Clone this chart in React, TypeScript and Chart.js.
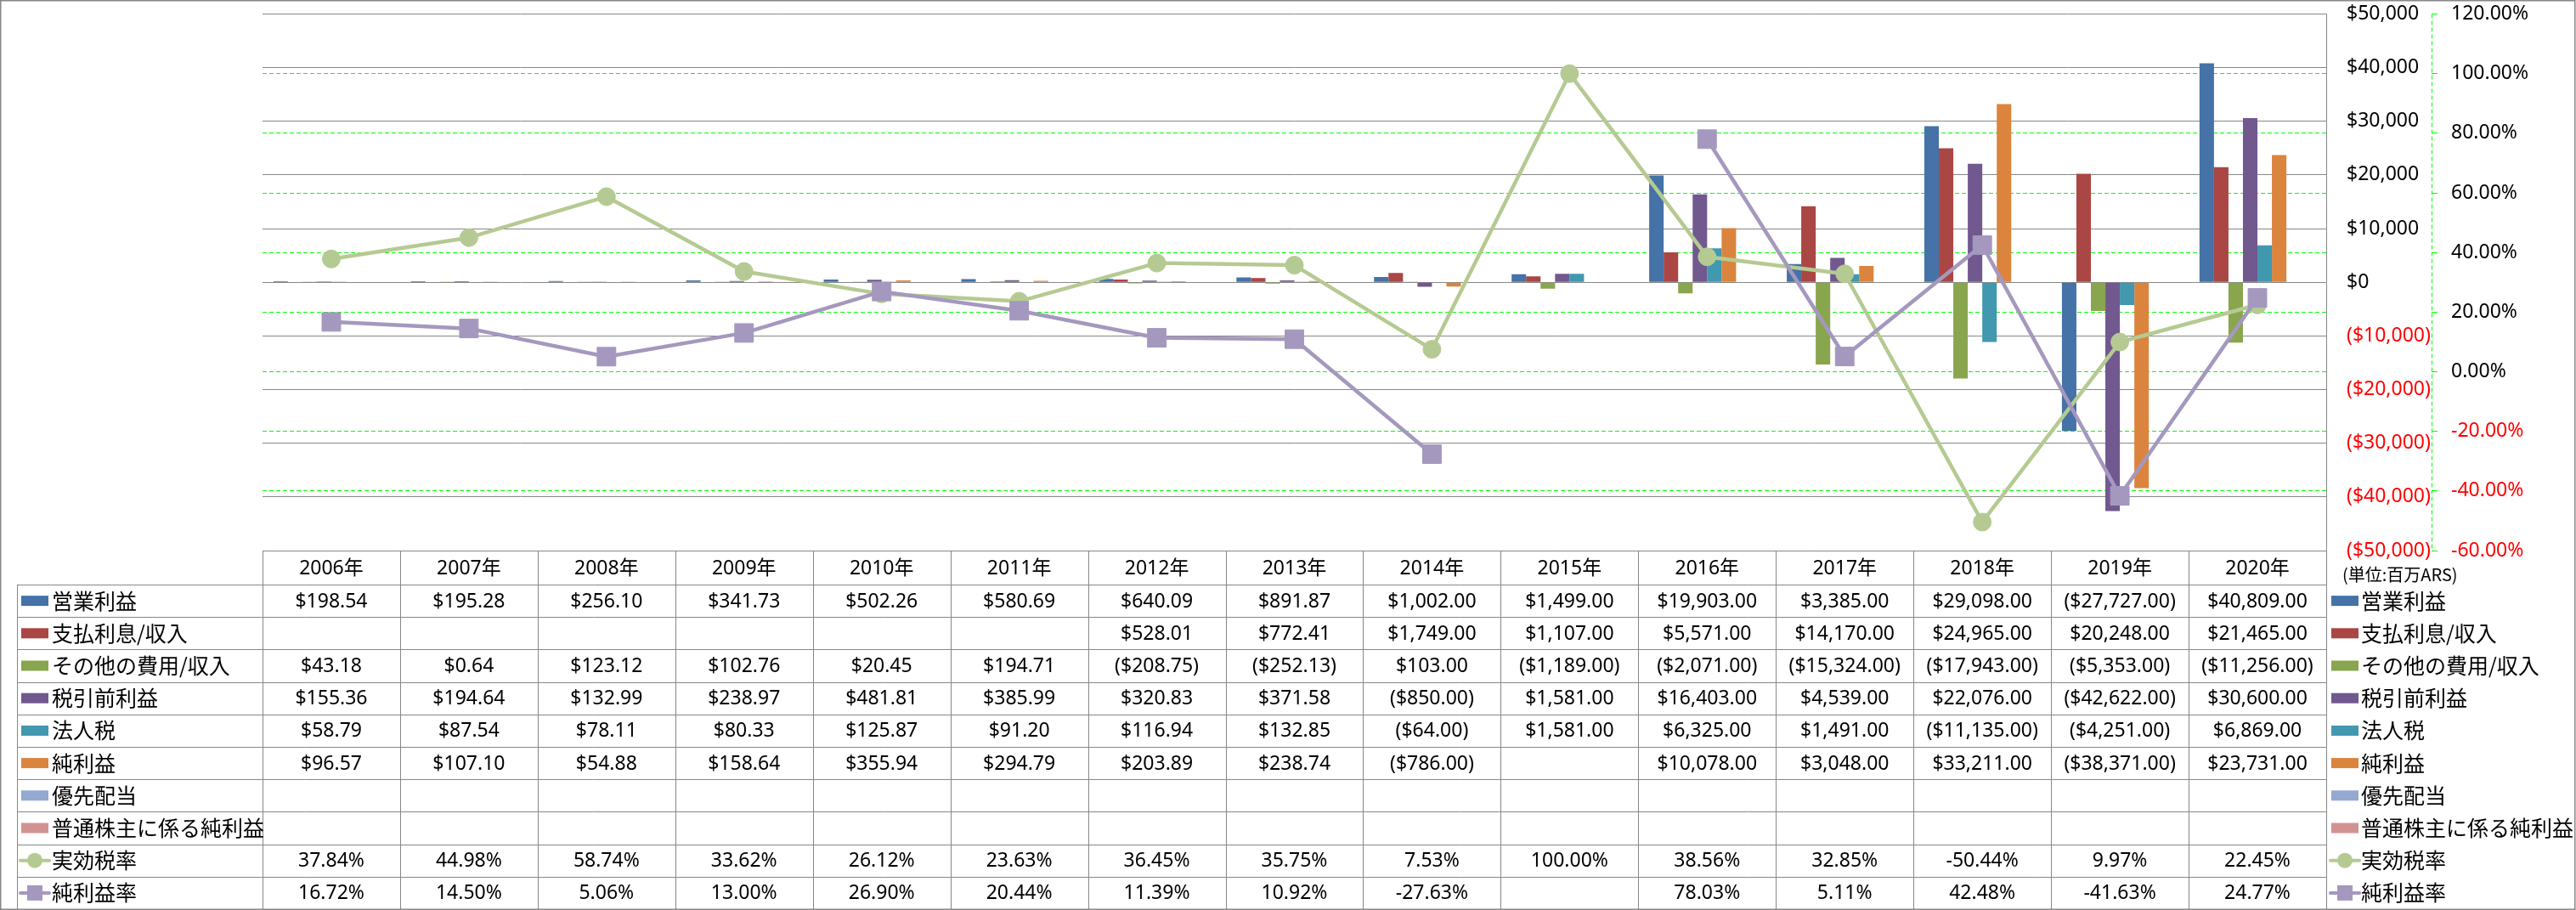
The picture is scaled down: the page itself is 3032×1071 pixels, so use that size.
import React, { useEffect, useRef } from 'react';
import { Chart, registerables } from 'chart.js';

Chart.register(...registerables);

// ---------- data ----------
const years = ['2006年', '2007年', '2008年', '2009年', '2010年', '2011年', '2012年', '2013年', '2014年', '2015年', '2016年', '2017年', '2018年', '2019年', '2020年'];

const operatingIncome = [198.54, 195.28, 256.10, 341.73, 502.26, 580.69, 640.09, 891.87, 1002.00, 1499.00, 19903.00, 3385.00, 29098.00, -27727.00, 40809.00];
const interestIncome = [null, null, null, null, null, null, 528.01, 772.41, 1749.00, 1107.00, 5571.00, 14170.00, 24965.00, 20248.00, 21465.00];
const otherIncome = [43.18, 0.64, 123.12, 102.76, 20.45, 194.71, -208.75, -252.13, 103.00, -1189.00, -2071.00, -15324.00, -17943.00, -5353.00, -11256.00];
const pretaxIncome = [155.36, 194.64, 132.99, 238.97, 481.81, 385.99, 320.83, 371.58, -850.00, 1581.00, 16403.00, 4539.00, 22076.00, -42622.00, 30600.00];
const incomeTax = [58.79, 87.54, 78.11, 80.33, 125.87, 91.20, 116.94, 132.85, -64.00, 1581.00, 6325.00, 1491.00, -11135.00, -4251.00, 6869.00];
const netIncome = [96.57, 107.10, 54.88, 158.64, 355.94, 294.79, 203.89, 238.74, -786.00, null, 10078.00, 3048.00, 33211.00, -38371.00, 23731.00];
const preferredDividends = [null, null, null, null, null, null, null, null, null, null, null, null, null, null, null];
const commonNetIncome = [null, null, null, null, null, null, null, null, null, null, null, null, null, null, null];
const effectiveTaxRate = [37.84, 44.98, 58.74, 33.62, 26.12, 23.63, 36.45, 35.75, 7.53, 100.00, 38.56, 32.85, -50.44, 9.97, 22.45];
const netMargin = [16.72, 14.50, 5.06, 13.00, 26.90, 20.44, 11.39, 10.92, -27.63, null, 78.03, 5.11, 42.48, -41.63, 24.77];

const barNames = ['営業利益', '支払利息/収入', 'その他の費用/収入', '税引前利益', '法人税', '純利益', '優先配当', '普通株主に係る純利益'];
const barColors = ['#4572A7', '#AA4643', '#89A54E', '#71588F', '#4198AF', '#DB843D', '#93A9CF', '#D19392'];
const barSeries = [operatingIncome, interestIncome, otherIncome, pretaxIncome, incomeTax, netIncome, preferredDividends, commonNetIncome];
const lineNames = ['実効税率', '純利益率'];
const lineColors = ['#B5CA92', '#A598BE'];
const lineSeries = [effectiveTaxRate, netMargin];
const unitLabel = '(単位:百万ARS)';

const LATIN = '"Noto Sans", "Noto Sans CJK JP", sans-serif';
const CJK = '"Noto Sans CJK JP", sans-serif';
const GRID = '#878787';
const NUM_SIZE = 23;

function fmtMoney(v: number | null): string {
  if (v === null || v === undefined) return '';
  const s = '$' + Math.abs(v).toLocaleString('en-US', { minimumFractionDigits: 2, maximumFractionDigits: 2 });
  return v < 0 ? '(' + s + ')' : s;
}
function fmtPct(v: number | null): string {
  if (v === null || v === undefined) return '';
  return v.toFixed(2) + '%';
}

function drawKey(ctx: CanvasRenderingContext2D, ds: any, cx: number, cy: number) {
  ctx.save();
  if (ds.type === 'line') {
    ctx.strokeStyle = ds.borderColor;
    ctx.lineWidth = 4;
    ctx.lineCap = 'round';
    ctx.beginPath();
    ctx.moveTo(cx - 17, cy);
    ctx.lineTo(cx + 17, cy);
    ctx.stroke();
    ctx.fillStyle = ds.pointBackgroundColor;
    if (ds.pointStyle === 'circle') {
      ctx.beginPath();
      ctx.arc(cx, cy, 9, 0, Math.PI * 2);
      ctx.fill();
    } else {
      ctx.fillRect(cx - 9, cy - 9, 18, 18);
    }
  } else {
    ctx.fillStyle = ds.backgroundColor;
    ctx.fillRect(cx - 16, cy - 6, 32, 12);
  }
  ctx.restore();
}

const tablePlugin = {
  id: 'dataTable',
  beforeDraw(chart: any) {
    const ctx = chart.ctx;
    ctx.save();
    ctx.fillStyle = '#ffffff';
    ctx.fillRect(0, 0, chart.width, chart.height);
    ctx.restore();
  },
  afterDraw(chart: any) {
    const ctx: CanvasRenderingContext2D = chart.ctx;
    const area = chart.chartArea;
    const xs = chart.scales.x;
    const y1 = chart.scales.y1;
    const n = years.length;
    const colW = (area.right - area.left) / n;
    const top = area.bottom;
    const headerH = 40;
    const rowH = 38.2;
    const labelLeft = 20;
    const datasets = chart.data.datasets;
    const rows = datasets.length;
    const bottom = top + headerH + rows * rowH;
    const px = (v: number) => Math.round(v) + 0.5;

    ctx.save();
    // secondary axis dashed line
    ctx.strokeStyle = '#00FF00';
    ctx.lineWidth = 1;
    ctx.setLineDash([5, 3]);
    ctx.beginPath();
    ctx.moveTo(px(y1.left), y1.top);
    ctx.lineTo(px(y1.left), y1.bottom);
    ctx.stroke();
    ctx.setLineDash([]);

    // table lines
    ctx.strokeStyle = GRID;
    ctx.lineWidth = 1;
    ctx.beginPath();
    for (let r = 0; r <= rows; r++) {
      const y = px(top + headerH + r * rowH);
      ctx.moveTo(labelLeft, y);
      ctx.lineTo(area.right, y);
    }
    ctx.moveTo(area.left, px(top));
    ctx.lineTo(area.right, px(top));
    for (let i = 0; i <= n; i++) {
      const x = px(area.left + i * colW);
      ctx.moveTo(x, top);
      ctx.lineTo(x, bottom);
    }
    ctx.moveTo(px(labelLeft), top + headerH);
    ctx.lineTo(px(labelLeft), bottom);
    ctx.stroke();

    // header labels
    ctx.fillStyle = '#000000';
    ctx.textAlign = 'center';
    ctx.textBaseline = 'middle';
    ctx.font = NUM_SIZE + 'px ' + LATIN;
    for (let i = 0; i < n; i++) {
      ctx.fillText(years[i], xs.getPixelForValue(i), top + headerH / 2 + 1);
    }

    // rows
    for (let r = 0; r < rows; r++) {
      const ds = datasets[r];
      const cy = top + headerH + r * rowH + rowH / 2;
      drawKey(ctx, ds, 41, cy);
      drawKey(ctx, ds, 2760, cy);
      ctx.fillStyle = '#000000';
      ctx.textAlign = 'left';
      ctx.font = '25px ' + CJK;
      ctx.fillText(ds.label, 61, cy);
      ctx.fillText(ds.label, 2779, cy);
      ctx.textAlign = 'center';
      ctx.font = NUM_SIZE + 'px ' + LATIN;
      const isPct = ds.type === 'line';
      for (let i = 0; i < n; i++) {
        const v = ds.data[i];
        const s = isPct ? fmtPct(v) : fmtMoney(v);
        if (s) ctx.fillText(s, xs.getPixelForValue(i), cy + 1);
      }
    }

    // unit label
    ctx.textAlign = 'left';
    ctx.font = '20px ' + CJK;
    ctx.fillText(unitLabel, 2757, top + headerH / 2 + 8);

    // outer frame
    ctx.strokeStyle = GRID;
    ctx.lineWidth = 1.5;
    ctx.strokeRect(0.75, 0.75, chart.width - 2, chart.height - 1.5);
    ctx.restore();
  },
};

export default function App() {
  const canvasRef = useRef<HTMLCanvasElement | null>(null);

  useEffect(() => {
    const canvas = canvasRef.current;
    if (!canvas) return;
    const datasets: any[] = [];
    barSeries.forEach((data, i) => {
      datasets.push({
        type: 'bar',
        label: barNames[i],
        data,
        backgroundColor: barColors[i],
        borderWidth: 0,
        yAxisID: 'y',
        order: 2,
        categoryPercentage: 8 / 9.5,
        barPercentage: 1,
      });
    });
    lineSeries.forEach((data, i) => {
      datasets.push({
        type: 'line',
        label: lineNames[i],
        data,
        borderColor: lineColors[i],
        backgroundColor: lineColors[i],
        pointBackgroundColor: lineColors[i],
        pointBorderColor: lineColors[i],
        pointBorderWidth: 1,
        borderWidth: 4.5,
        borderJoinStyle: 'round',
        borderCapStyle: 'round',
        pointStyle: i === 0 ? 'circle' : 'rect',
        pointRadius: i === 0 ? 10.5 : 15.5,
        tension: 0,
        spanGaps: false,
        yAxisID: 'y1',
        order: i === 0 ? 1 : 0,
      });
    });

    const fitRight = (w: number) => (s: any) => {
      s.width = w;
      s.paddingTop = 0;
      s.paddingBottom = 0;
    };

    const chart = new Chart(canvas, {
      type: 'bar',
      data: { labels: years, datasets },
      options: {
        responsive: false,
        animation: false,
        devicePixelRatio: 1,
        layout: { padding: { left: 309, top: 15, right: 0, bottom: 423 } },
        plugins: { legend: { display: false }, tooltip: { enabled: false } },
        scales: {
          x: { display: false, offset: true, grid: { display: false } },
          y: {
            position: 'right',
            min: -50000,
            max: 50000,
            afterFit: fitRight(124),
            ticks: {
              stepSize: 10000,
              padding: 24,
              font: { family: LATIN, size: NUM_SIZE },
              color: (c: any) => (c.tick && c.tick.value < 0 ? '#FF0000' : '#000000'),
              callback: (v: any) => {
                const num = Number(v);
                const s = '$' + Math.abs(num).toLocaleString('en-US');
                return num < 0 ? '(' + s + ')' : s;
              },
            },
            grid: { color: GRID, lineWidth: 1, drawTicks: false },
            border: { color: GRID, width: 1 },
          },
          y1: {
            position: 'right',
            min: -60,
            max: 120,
            afterFit: fitRight(170),
            ticks: {
              stepSize: 20,
              padding: 16,
              font: { family: LATIN, size: NUM_SIZE },
              color: (c: any) => (c.tick && c.tick.value < 0 ? '#FF0000' : '#000000'),
              callback: (v: any) => Number(v).toFixed(2) + '%',
            },
            grid: {
              color: (c: any) => (c.tick && (c.tick.value === 120 || c.tick.value === -60) ? 'rgba(0,0,0,0)' : '#00FF00'),
              tickColor: '#00FF00',
              tickLength: 7,
              lineWidth: 1,
            },
            border: { display: false, dash: [5, 3] },
          },
        },
      },
      plugins: [tablePlugin],
    } as any);

    return () => chart.destroy();
  }, []);

  return (
    <div style={{ position: 'fixed', left: 0, top: 0, width: 3032, height: 1071, background: '#ffffff' }}>
      <canvas ref={canvasRef} width={3032} height={1071} style={{ display: 'block', width: 3032, height: 1071 }} />
    </div>
  );
}
